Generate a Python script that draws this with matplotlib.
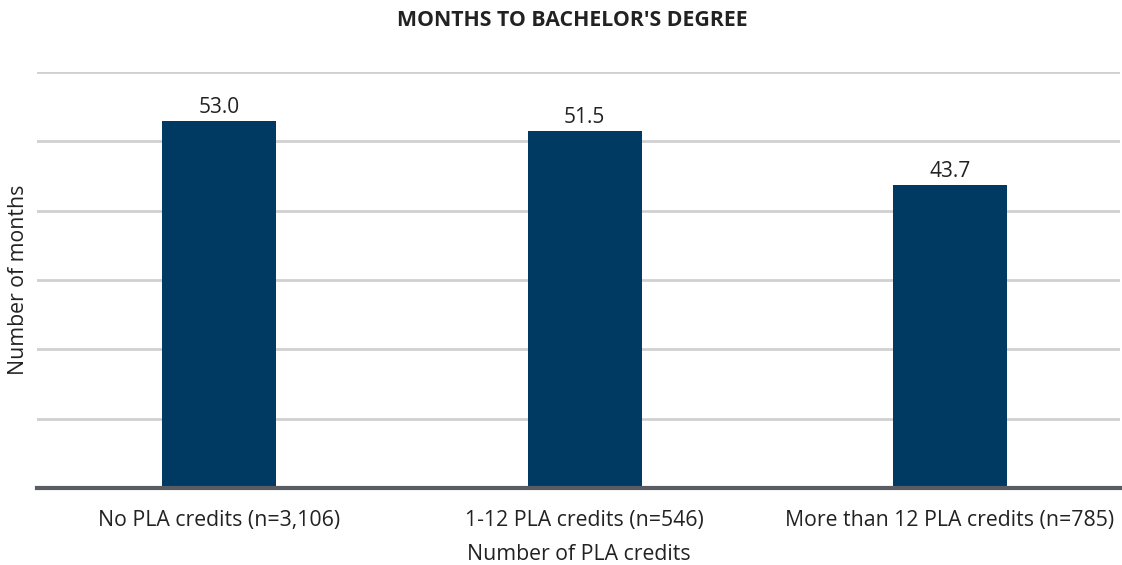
import matplotlib
matplotlib.use("Agg")
import matplotlib.pyplot as plt

categories = ["No PLA credits (n=3,106)", "1-12 PLA credits (n=546)", "More than 12 PLA credits (n=785)"]
values = [53.0, 51.5, 43.7]
value_labels = ["53.0", "51.5", "43.7"]

plt.rcParams['font.family'] = ['Open Sans', 'DejaVu Sans']

fig = plt.figure(figsize=(11.22, 5.65), dpi=100)
ax = fig.add_axes([37/1122, 1 - 488/565, (1120-37)/1122, (488-72)/565])

x = list(range(len(categories)))
bars = ax.bar(x, values, width=0.312, color="#003a63", zorder=3)
for b, lab in zip(bars, value_labels):
    ax.annotate(lab, (b.get_x() + b.get_width()/2, b.get_height()),
                xytext=(0, 2), textcoords="offset points",
                ha="center", va="bottom", fontsize=15, color="#222222")

ax.set_xlim(-0.498, 2.465)
ax.set_ylim(0, 60)
ax.set_yticks([10, 20, 30, 40, 50, 60])
ax.yaxis.grid(True, color="#d0d0d0", linewidth=2)
ax.set_axisbelow(True)
ax.tick_params(axis="y", length=0, labelleft=False)
ax.tick_params(axis="x", length=0, labelsize=15.3, colors="#222222", pad=16)
ax.set_xticks(x)
ax.set_xticklabels(categories)
for s in ["top", "right", "left"]:
    ax.spines[s].set_visible(False)
ax.spines["bottom"].set_color("#595d63")
ax.spines["bottom"].set_linewidth(3)
ax.spines["bottom"].set_zorder(4)

ax.set_xlabel("Number of PLA credits", fontsize=15.3, color="#222222", labelpad=9)
fig.text(18/1122, 1 - 280/565, "Number of months", rotation=90, fontsize=15.3,
         color="#222222", ha="center", va="center")
fig.text(572/1122, 1 - 20/565, "MONTHS TO BACHELOR'S DEGREE", fontsize=15.3,
         fontweight="bold", color="#222222", ha="center", va="center")

fig.savefig("out.png", dpi=100)
